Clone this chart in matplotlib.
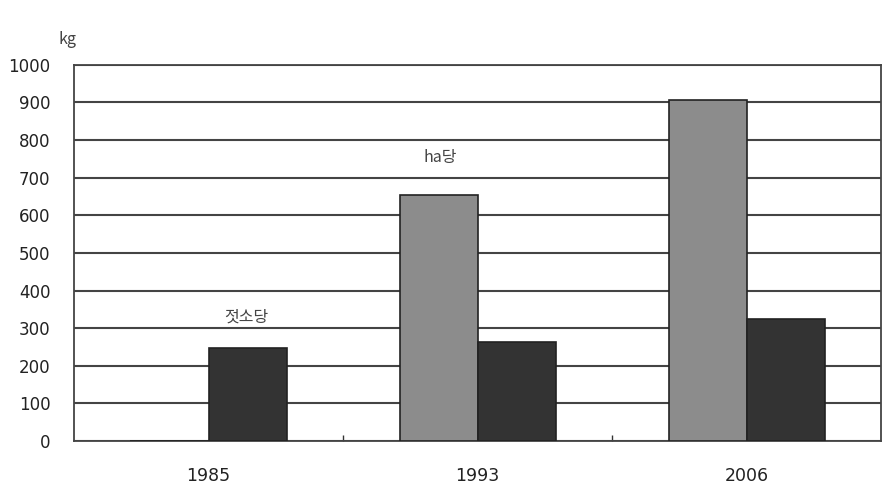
import matplotlib
matplotlib.use("Agg")
import matplotlib.pyplot as plt
import numpy as np

plt.rcParams["font.family"] = ["Noto Sans CJK KR", "DejaVu Sans"]

# Data
years = ["1985", "1993", "2006"]
per_ha = [0, 654, 907]       # ha당
per_cow = [247, 263, 324]    # 젓소당
y_ticks = [0, 100, 200, 300, 400, 500, 600, 700, 800, 900, 1000]

fig = plt.figure(figsize=(8.86, 4.86), dpi=100)
ax = fig.add_axes([0.0835, 0.0926, 0.911, 0.774])

x = np.arange(len(years))
w = 0.29
edge = "#222222"
ax.bar(x - w / 2, per_ha, width=w, color="#8c8c8c", edgecolor=edge, linewidth=1.2, zorder=3)
ax.bar(x + w / 2, per_cow, width=w, color="#333333", edgecolor=edge, linewidth=1.2, zorder=3)

ax.set_xlim(-0.5, len(years) - 0.5)
ax.set_ylim(0, 1000)
ax.set_yticks(y_ticks)
ax.set_yticklabels([str(v) for v in y_ticks], fontsize=12, family="DejaVu Sans", color="#222222")
ax.set_xticks(x)
ax.set_xticklabels(years, fontsize=12.5, family="DejaVu Sans", color="#222222")
ax.tick_params(axis="x", length=0, pad=19)
ax.tick_params(axis="y", length=0, pad=17)
# small inward category separators
ax.set_xticks(np.arange(0.5, len(years) - 0.5, 1), minor=True)
ax.tick_params(axis="x", which="minor", direction="in", length=4, width=1, color="#333333")

ax.yaxis.grid(True, color="#444444", linewidth=1.5, zorder=0)
ax.set_axisbelow(True)
for s in ax.spines.values():
    s.set_color("#444444")
    s.set_linewidth(1.3)

ax.text(0.86, 753, "ha당", ha="center", va="center", fontsize=11.5, color="#444444")
ax.text(0.14, 330, "젓소당", ha="center", va="center", fontsize=11.5, color="#444444")
fig.text(68 / 886, 1 - 40 / 486, "kg", ha="center", va="center", fontsize=11.5, color="#444444")

fig.savefig("out.png", dpi=100)
